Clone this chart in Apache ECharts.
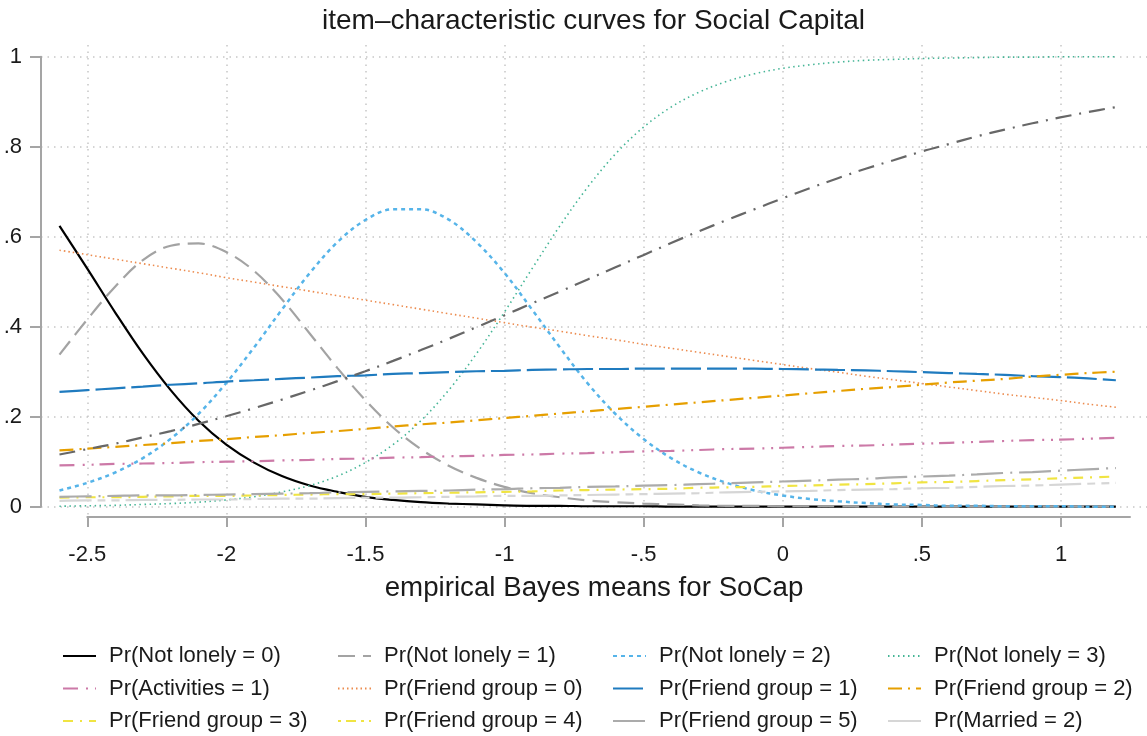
<!DOCTYPE html>
<html>
<head>
<meta charset="utf-8">
<script src="https://cdn.jsdelivr.net/npm/echarts@6/dist/echarts.min.js"></script>
<style>html,body{margin:0;padding:0;background:#fff}#c{width:1147px;height:736px}</style>
</head>
<body>
<div id="c"></div>
<script>
// ---- data ----
const xs = [-2.6,-2.5,-2.4,-2.3,-2.2,-2.1,-2.0,-1.9,-1.8,-1.7,-1.6,-1.5,-1.4,-1.3,-1.2,-1.1,-1.0,-0.9,-0.8,-0.7,-0.6,-0.5,-0.4,-0.3,-0.2,-0.1,0.0,0.1,0.2,0.3,0.4,0.5,0.6,0.7,0.8,0.9,1.0,1.1,1.2];

const notLonely0 = [0.624,0.529,0.432,0.340,0.259,0.191,0.138,0.098,0.068,0.047,0.033,0.022,0.015,0.010,0.007,0.005,0.003,0.002,0.002,0.001,0.001,0.001,0,0,0,0,0,0,0,0,0,0,0,0,0,0,0,0,0];
const notLonely1 = [0.338,0.416,0.489,0.548,0.580,0.585,0.566,0.524,0.461,0.385,0.308,0.237,0.176,0.128,0.091,0.064,0.044,0.030,0.021,0.014,0.010,0.007,0.005,0.003,0.002,0.002,0.001,0.001,0.001,0,0,0,0,0,0,0,0,0,0];
const notLonely2 = [0.036,0.053,0.076,0.108,0.151,0.206,0.275,0.354,0.438,0.519,0.588,0.637,0.661,0.661,0.638,0.588,0.520,0.438,0.354,0.274,0.206,0.151,0.108,0.076,0.053,0.036,0.025,0.017,0.012,0.008,0.005,0.004,0.002,0.002,0.001,0.001,0.001,0,0];
const notLonely3 = [0.001,0.002,0.003,0.005,0.007,0.010,0.015,0.022,0.033,0.047,0.068,0.098,0.138,0.191,0.259,0.340,0.432,0.529,0.624,0.710,0.784,0.843,0.888,0.921,0.945,0.962,0.974,0.982,0.988,0.992,0.994,0.996,0.997,0.998,0.999,0.999,1.0,1.0,1.0];
const activities1 = [0.092,0.093,0.095,0.096,0.097,0.099,0.100,0.101,0.103,0.104,0.106,0.107,0.109,0.110,0.112,0.113,0.115,0.116,0.118,0.119,0.121,0.123,0.124,0.126,0.128,0.129,0.131,0.133,0.135,0.136,0.138,0.140,0.142,0.144,0.146,0.148,0.149,0.151,0.153];
const friend0 = [0.570,0.560,0.550,0.540,0.530,0.520,0.509,0.499,0.489,0.479,0.469,0.459,0.449,0.439,0.429,0.419,0.409,0.399,0.390,0.380,0.371,0.361,0.352,0.343,0.334,0.325,0.316,0.307,0.299,0.290,0.282,0.274,0.266,0.258,0.250,0.243,0.236,0.228,0.221];
const friend1 = [0.255,0.259,0.263,0.267,0.271,0.274,0.278,0.281,0.284,0.287,0.290,0.292,0.295,0.297,0.299,0.301,0.302,0.304,0.305,0.306,0.306,0.307,0.307,0.307,0.307,0.307,0.306,0.305,0.304,0.303,0.301,0.299,0.297,0.295,0.293,0.290,0.288,0.285,0.281];
const friend2 = [0.125,0.129,0.133,0.137,0.141,0.146,0.150,0.155,0.159,0.164,0.168,0.173,0.178,0.183,0.187,0.192,0.197,0.202,0.207,0.212,0.217,0.222,0.227,0.232,0.237,0.242,0.247,0.252,0.257,0.262,0.266,0.271,0.276,0.280,0.284,0.289,0.293,0.297,0.300];
const friend3 = [0.020,0.021,0.021,0.022,0.023,0.024,0.024,0.025,0.026,0.027,0.028,0.028,0.029,0.030,0.031,0.032,0.033,0.034,0.036,0.037,0.038,0.039,0.040,0.042,0.043,0.044,0.046,0.047,0.049,0.050,0.052,0.054,0.055,0.057,0.059,0.061,0.063,0.065,0.067];
const friend4 = [0.013,0.014,0.014,0.015,0.015,0.016,0.016,0.017,0.018,0.018,0.019,0.020,0.020,0.021,0.022,0.023,0.024,0.024,0.025,0.026,0.027,0.028,0.029,0.030,0.032,0.033,0.034,0.035,0.037,0.038,0.039,0.041,0.042,0.044,0.046,0.047,0.049,0.051,0.053];
const friend5 = [0.022,0.023,0.024,0.025,0.025,0.026,0.027,0.028,0.029,0.030,0.032,0.033,0.034,0.035,0.036,0.038,0.039,0.041,0.042,0.044,0.045,0.047,0.048,0.050,0.052,0.054,0.056,0.058,0.060,0.062,0.065,0.067,0.069,0.072,0.075,0.077,0.080,0.083,0.086];
const married2 = [0.116,0.128,0.140,0.154,0.168,0.184,0.201,0.219,0.238,0.258,0.279,0.301,0.324,0.348,0.373,0.399,0.425,0.452,0.478,0.505,0.532,0.559,0.586,0.612,0.637,0.661,0.685,0.708,0.730,0.751,0.770,0.789,0.806,0.823,0.838,0.852,0.865,0.877,0.888];

const xTicks = [-2.5,-2,-1.5,-1,-0.5,0,0.5,1];
const xTickLabels = ['-2.5','-2','-1.5','-1','-.5','0','.5','1'];
const yTicks = [0,0.2,0.4,0.6,0.8,1];
const yTickLabels = ['0','.2','.4','.6','.8','1'];

const titleText = 'item\u2013characteristic curves for Social Capital';
const xTitle = 'empirical Bayes means for SoCap';

const seriesDefs = [
  {name:'Pr(Not lonely = 0)', data:notLonely0, color:'#000000', width:2.2, type:'solid'},
  {name:'Pr(Not lonely = 1)', data:notLonely1, color:'#a3a3a3', width:2.2, type:[17,8]},
  {name:'Pr(Not lonely = 2)', data:notLonely2, color:'#56b4e9', width:2.5, type:[4,4]},
  {name:'Pr(Not lonely = 3)', data:notLonely3, color:'#45b596', width:1.6, type:[1.5,3.5]},
  {name:'Pr(Activities = 1)', data:activities1, color:'#cc79a7', width:2.2, type:[15,8,2,7,2,6]},
  {name:'Pr(Friend group = 0)', data:friend0, color:'#ec8b4e', width:1.6, type:[1.5,3]},
  {name:'Pr(Friend group = 1)', data:friend1, color:'#1f7bbf', width:2.2, type:[30,6]},
  {name:'Pr(Friend group = 2)', data:friend2, color:'#e69f00', width:2.2, type:[14,6,2,6]},
  {name:'Pr(Friend group = 3)', data:friend3, color:'#f0e442', width:2.2, type:[10,7,2,7]},
  {name:'Pr(Friend group = 4)', data:friend4, color:'#d6d6d6', width:2.2, type:[32,6,8,6,8,6]},
  {name:'Pr(Friend group = 5)', data:friend5, color:'#ababab', width:2.2, type:[32,7,2,7]},
  {name:'Pr(Married = 2)', data:married2, color:'#676767', width:2.2, type:[16,8,2,8]}
];

const legendCols = [
  ['Pr(Not lonely = 0)','Pr(Activities = 1)','Pr(Friend group = 3)'],
  ['Pr(Not lonely = 1)','Pr(Friend group = 0)','Pr(Friend group = 4)'],
  ['Pr(Not lonely = 2)','Pr(Friend group = 1)','Pr(Friend group = 5)'],
  ['Pr(Not lonely = 3)','Pr(Friend group = 2)','Pr(Married = 2)']
];
const legendIconOverride = {
  'Pr(Friend group = 4)': {color:'#f0e442', type:[3,5,10,5]},
  'Pr(Married = 2)': {color:'#d6d6d6', type:'solid'}
};

const FONT = "'Liberation Sans', Arial, Helvetica, sans-serif";
const chart = echarts.init(document.getElementById('c'), null, {renderer:'canvas'});

const gridLine = {show:true, lineStyle:{color:'#c6c6c6', width:1.5, type:[1.5,5]}};
function fmt(list, labels){ return function(v){ let best=0; for(let i=0;i<list.length;i++){ if(Math.abs(list[i]-v)<Math.abs(list[best]-v)) best=i; } return labels[best]; }; }

const option = {
  backgroundColor:'#ffffff',
  animation:false,
  textStyle:{fontFamily:FONT},
  title:{text:titleText, left:322, top:7, padding:0,
    textStyle:{fontFamily:FONT, fontSize:28, fontWeight:'normal', color:'#1a1a1a'}},
  grid:[
    {left:41, top:45, width:1106, height:472},
    {left:87.3, top:45, width:1042.7, height:472},
    {left:41, top:56.7, width:1106, height:450}
  ],
  xAxis:[
    {type:'value', gridIndex:0, min:-2.6665, max:1.312,
     axisLine:{show:false}, axisTick:{show:false}, axisLabel:{show:false}, splitLine:{show:false},
     name:xTitle, nameLocation:'middle', nameGap:57,
     nameTextStyle:{fontFamily:FONT, fontSize:27.7, color:'#1a1a1a'}},
    {type:'value', gridIndex:1, min:-2.5, max:1.248, offset:8,
     axisLine:{show:true, lineStyle:{color:'#a5a5a5', width:2}},
     axisTick:{show:true, length:10, inside:false, customValues:xTicks, lineStyle:{color:'#a5a5a5', width:2}},
     axisLabel:{show:true, customValues:xTicks, margin:19, fontSize:22, color:'#1a1a1a', fontFamily:FONT,
       formatter:fmt(xTicks, xTickLabels)},
     splitLine:gridLine},
    {type:'value', gridIndex:2, min:0, max:1, show:false}
  ],
  yAxis:[
    {type:'value', gridIndex:0, min:-0.0229, max:1.026, show:false},
    {type:'value', gridIndex:1, min:0, max:1, show:false},
    {type:'value', gridIndex:2, min:0, max:1, interval:0.2,
     axisLine:{show:true, lineStyle:{color:'#a5a5a5', width:2}},
     axisTick:{show:true, length:11, inside:false, lineStyle:{color:'#a5a5a5', width:2}},
     axisLabel:{show:true, margin:19, fontSize:22, color:'#1a1a1a', fontFamily:FONT,
       formatter:fmt(yTicks, yTickLabels)},
     splitLine:gridLine}
  ],
  legend: legendCols.map(function(col, i){
    return {
      orient:'vertical', left:62 + 275*i, top:645, padding:0,
      itemWidth:33, itemHeight:14, itemGap:10.5, selectedMode:false,
      itemStyle:{opacity:0},
      textStyle:{fontFamily:FONT, fontSize:22, color:'#1a1a1a', lineHeight:22, padding:[0,0,0,8]},
      data: col.map(function(n){
        const o = legendIconOverride[n];
        return o ? {name:n, lineStyle:{color:o.color, type:o.type}} : {name:n};
      })
    };
  }),
  series: seriesDefs.map(function(s){
    return {
      name:s.name, type:'line', xAxisIndex:0, yAxisIndex:0,
      data: xs.map(function(x,i){ return [x, s.data[i]]; }),
      symbol:'none', smooth:0.35,
      color:s.color,
      lineStyle:{color:s.color, width:s.width, type:s.type},
      emphasis:{disabled:true}
    };
  })
};
chart.setOption(option);
</script>
</body>
</html>
